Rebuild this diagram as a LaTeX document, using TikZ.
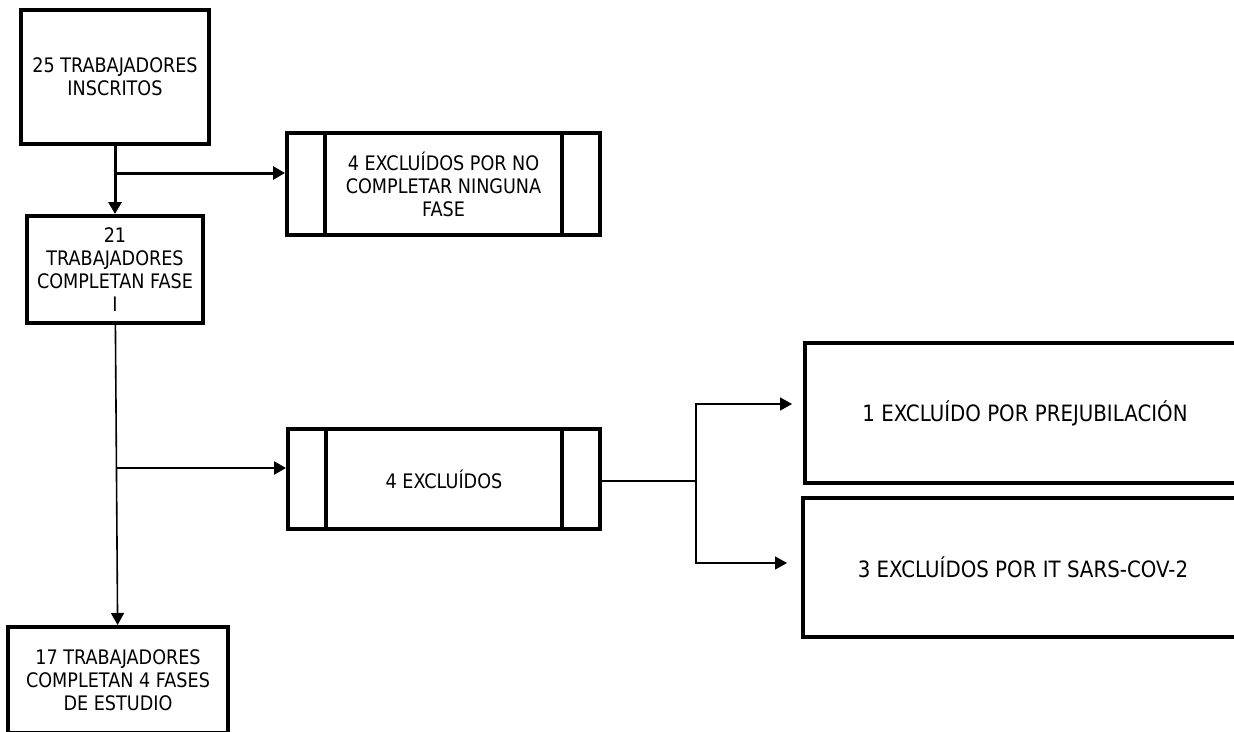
\documentclass[tikz,border=0pt]{standalone}
\usepackage{fontspec}
\setmainfont{DejaVu Sans}[FakeStretch=0.88]
\usetikzlibrary{positioning,arrows.meta}

\begin{document}
\begin{tikzpicture}[
     x=1pt, y=-1pt,
     % define styles
     box/.style={
         draw,
         rectangle,
         line width=4pt,
         align=center,
         font=\fontsize{20}{23}\selectfont
     },
     bigbox/.style={
         box,
         font=\fontsize{22.5}{26}\selectfont
     },
     bar/.style={
         line width=4pt
     },
     flow/.style={
         ->,
         line width=3pt
     },
     thinflow/.style={
         ->,
         line width=1.6pt
     },
     >={Triangle[length=12pt,width=13pt]}
]
\useasboundingbox (0,0) rectangle (1234,731);
\clip (0,0) rectangle (1234,731);
\fill[white] (0,0) rectangle (1234,731);

% main column
\node[box, minimum width=188pt, minimum height=134pt] (insc) at (115,77)
    {25 TRABAJADORES\\INSCRITOS};
\node[box, minimum width=176pt, minimum height=107pt] (fase1) at (115,269.5)
    {21\\TRABAJADORES\\COMPLETAN FASE\\I};
\node[box, minimum width=220pt, minimum height=106pt] (final) at (118,680)
    {17 TRABAJADORES\\COMPLETAN 4 FASES\\DE ESTUDIO};

% excluded boxes
\node[box, minimum width=313pt, minimum height=102pt] (excl1) at (443.5,184)
    {4 EXCLUÍDOS POR NO\\COMPLETAR NINGUNA\\FASE};
\node[box, minimum width=312pt, minimum height=100pt] (excl2) at (444,479)
    {4 EXCLUÍDOS};
\node[bigbox, minimum width=440pt, minimum height=140pt] (prejub) at (1025,413)
    {1 EXCLUÍDO POR PREJUBILACIÓN};
\node[bigbox, minimum width=440pt, minimum height=139pt] (sars) at (1023,567.5)
    {3 EXCLUÍDOS POR IT SARS-COV-2};

% side bars of the excluded boxes
\foreach \b in {excl1,excl2} {
    \draw[bar] ([xshift=40pt]\b.north west) -- ([xshift=40pt]\b.south west);
    \draw[bar] ([xshift=-40pt]\b.north east) -- ([xshift=-40pt]\b.south east);
}

% branch points
\coordinate (j1) at (115,173);
\coordinate (j2) at (117,468);
\coordinate (j3) at (696,481);
\coordinate (up) at (0,404);
\coordinate (lo) at (0,563);

% connectors
\draw[flow] (insc) -- (fase1);
\draw[flow] (j1) -- (j1 -| excl1.west);
\draw[thinflow] (fase1) -- (final);
\draw[->, line width=2.5pt] (j2) -- (j2 -| excl2.west);
\draw[line width=2pt] (j3 -| excl2.east) -- (j3);
\draw[thinflow, shorten >=11pt] (j3) -- (j3 |- up) -- (prejub.west |- up);
\draw[thinflow, shorten >=14pt] (j3) |- (sars.west |- lo);
\end{tikzpicture}
\end{document}
